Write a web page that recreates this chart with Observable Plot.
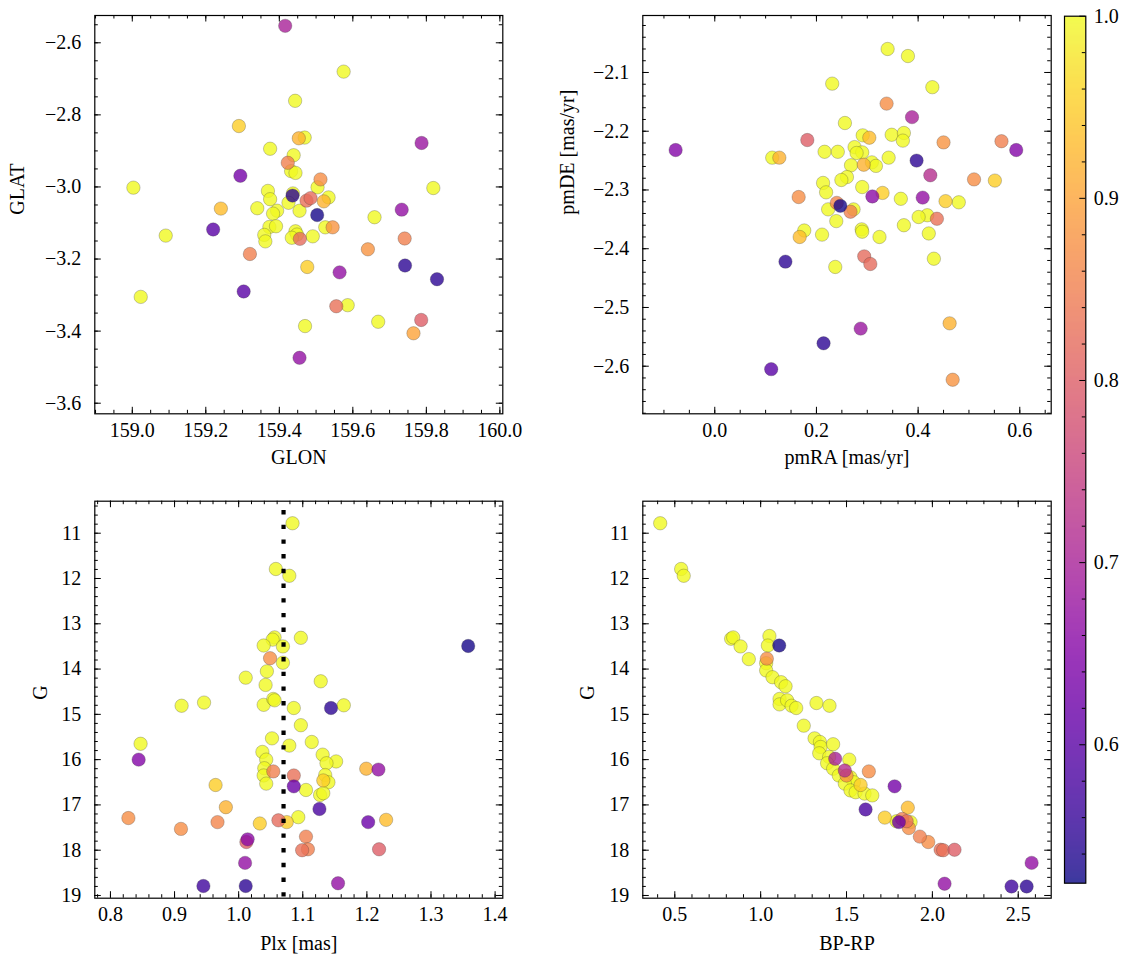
<!DOCTYPE html>
<html>
<head>
<meta charset="utf-8">
<script src="https://cdn.jsdelivr.net/npm/d3@7"></script>
<script src="https://cdn.jsdelivr.net/npm/@observablehq/plot@0.6"></script>
<style>
  html, body { margin: 0; padding: 0; background: #fff; }
  #fig { position: relative; width: 1133px; height: 965px; overflow: hidden; }
  #fig > svg { position: absolute; overflow: visible; }
  #fig svg, #fig svg text { font-family: 'Liberation Serif', 'Times New Roman', serif !important; }
</style>
</head>
<body>
<div id="fig"></div>
<script>
// ---------- Panel 1: GLON / GLAT ----------
const glon = [
159.416, 159.575, 159.443, 159.290, 159.453, 159.469, 159.787, 159.375, 159.439, 159.423,
159.432, 159.444, 159.294, 159.512, 159.504, 159.003, 159.819, 159.369, 159.437, 159.436,
159.375, 159.485, 159.474, 159.534, 159.521, 159.425, 159.241, 159.340, 159.455, 159.733,
159.394, 159.383, 159.503, 159.659, 159.220, 159.091, 159.373, 159.391, 159.525, 159.545,
159.359, 159.362, 159.444, 159.448, 159.434, 159.456, 159.491, 159.741, 159.320, 159.641,
159.742, 159.476, 159.564, 159.829, 159.303, 159.023, 159.555, 159.586, 159.669, 159.786,
159.470, 159.765, 159.455];
const glat = [
-2.553, -2.680, -2.761, -2.831, -2.865, -2.863, -2.878, -2.894, -2.912, -2.933,
-2.956, -2.961, -2.969, -2.979, -3.001, -3.002, -3.003, -3.011, -3.018, -3.024,
-3.034, -3.031, -3.038, -3.029, -3.040, -3.044, -3.060, -3.059, -3.066, -3.063,
-3.066, -3.074, -3.078, -3.084, -3.118, -3.135, -3.111, -3.109, -3.112, -3.112,
-3.133, -3.151, -3.123, -3.132, -3.141, -3.144, -3.137, -3.143, -3.186, -3.173,
-3.218, -3.222, -3.237, -3.256, -3.290, -3.305, -3.331, -3.328, -3.374, -3.369,
-3.386, -3.406, -3.474];
const probGal = [
0.70, 1.00, 1.00, 0.95, 0.92, 1.00, 0.68, 1.00, 1.00, 0.85,
1.00, 1.00, 0.63, 0.87, 1.00, 1.00, 1.00, 1.00, 1.00, 0.55,
1.00, 0.82, 0.83, 1.00, 0.92, 1.00, 0.93, 1.00, 1.00, 0.67,
1.00, 1.00, 0.53, 1.00, 0.60, 1.00, 1.00, 1.00, 1.00, 0.88,
1.00, 1.00, 1.00, 1.00, 1.00, 0.82, 1.00, 0.85, 0.85, 0.88,
0.55, 0.95, 0.67, 0.55, 0.60, 1.00, 0.83, 1.00, 1.00, 0.80,
1.00, 0.90, 0.67];

// ---------- Panel 2: pmRA / pmDE ----------
const pmra = [
0.340, 0.380, 0.231, 0.428, 0.338, 0.388, 0.256, 0.291, 0.304, 0.348,
0.372, 0.370, 0.182, 0.450, 0.564, 0.593, -0.077, 0.216, 0.242, 0.275,
0.290, 0.279, 0.113, 0.127, 0.342, 0.397, 0.309, 0.317, 0.293, 0.268,
0.424, 0.260, 0.249, 0.510, 0.551, 0.213, 0.219, 0.290, 0.330, 0.310,
0.366, 0.409, 0.165, 0.454, 0.480, 0.240, 0.247, 0.223, 0.273, 0.267,
0.239, 0.418, 0.401, 0.437, 0.372, 0.176, 0.167, 0.211, 0.289, 0.290,
0.324, 0.421, 0.139, 0.294, 0.306, 0.237, 0.431, 0.462, 0.287, 0.214,
0.111, 0.468];
const pmde = [
-2.060, -2.072, -2.119, -2.125, -2.153, -2.176, -2.186, -2.207, -2.211, -2.206,
-2.203, -2.216, -2.215, -2.219, -2.217, -2.232, -2.232, -2.235, -2.235, -2.227,
-2.236, -2.237, -2.245, -2.245, -2.245, -2.250, -2.253, -2.259, -2.257, -2.258,
-2.275, -2.278, -2.283, -2.282, -2.284, -2.288, -2.304, -2.295, -2.305, -2.311,
-2.315, -2.313, -2.312, -2.319, -2.321, -2.322, -2.327, -2.333, -2.333, -2.337,
-2.353, -2.343, -2.346, -2.349, -2.360, -2.369, -2.380, -2.376, -2.367, -2.371,
-2.380, -2.374, -2.422, -2.413, -2.426, -2.431, -2.417, -2.527, -2.536, -2.561,
-2.605, -2.623];
const probPm = [
1.00, 1.00, 1.00, 1.00, 0.87, 0.70, 1.00, 1.00, 0.93, 1.00,
1.00, 1.00, 0.80, 0.88, 0.85, 0.65, 0.65, 1.00, 1.00, 1.00,
1.00, 1.00, 1.00, 0.92, 1.00, 0.55, 1.00, 1.00, 0.92, 1.00,
0.72, 1.00, 1.00, 0.87, 0.95, 1.00, 1.00, 1.00, 0.95, 0.66,
1.00, 0.67, 0.87, 0.95, 1.00, 0.86, 0.53, 1.00, 1.00, 0.85,
1.00, 1.00, 1.00, 0.83, 1.00, 1.00, 0.93, 1.00, 1.00, 1.00,
1.00, 1.00, 0.55, 0.82, 0.82, 1.00, 1.00, 0.92, 0.68, 0.55,
0.60, 0.88];

// ---------- Panel 3: Plx / G ----------
const plx = [
1.084, 1.058, 1.079, 1.097, 1.056, 1.053, 1.039, 1.069, 1.358, 1.049,
1.069, 1.044, 1.011, 1.128, 1.042, 0.946, 0.911, 1.039, 1.054, 1.056,
1.086, 1.144, 1.164, 1.097, 0.847, 1.052, 1.114, 1.079, 0.844, 1.037,
1.043, 1.131, 1.152, 1.137, 1.040, 1.054, 1.199, 1.218, 1.039, 1.086,
1.135, 1.140, 1.132, 1.043, 0.964, 1.086, 1.105, 1.127, 1.132, 0.980,
1.126, 0.828, 1.093, 1.230, 0.967, 1.033, 1.062, 1.075, 1.202, 0.910,
1.105, 1.014, 1.012, 1.099, 1.108, 1.219, 1.010, 0.945, 1.011, 1.155];
const gPlx = [
10.78, 11.79, 11.94, 13.31, 13.30, 13.35, 13.48, 13.50, 13.49, 13.76,
13.86, 14.05, 14.19, 14.27, 14.35, 14.74, 14.81, 14.79, 14.66, 14.69,
14.86, 14.86, 14.80, 15.24, 15.65, 15.53, 15.61, 15.69, 16.00, 15.83,
16.00, 15.89, 16.04, 16.08, 16.19, 16.26, 16.20, 16.22, 16.35, 16.35,
16.34, 16.50, 16.46, 16.53, 16.56, 16.59, 16.67, 16.78, 16.74, 17.05,
17.09, 17.29, 17.27, 17.33, 17.38, 17.41, 17.34, 17.38, 17.38, 17.53,
17.70, 17.76, 17.82, 18.00, 17.98, 17.98, 18.28, 18.79, 18.79, 18.73];
const probPlx = [
1.00, 1.00, 1.00, 1.00, 1.00, 1.00, 1.00, 1.00, 0.53, 0.87,
1.00, 1.00, 1.00, 1.00, 1.00, 1.00, 1.00, 1.00, 1.00, 1.00,
1.00, 0.55, 1.00, 1.00, 1.00, 1.00, 1.00, 1.00, 0.65, 1.00,
1.00, 1.00, 1.00, 1.00, 1.00, 0.85, 0.92, 0.67, 1.00, 0.83,
1.00, 1.00, 0.95, 1.00, 0.95, 0.62, 1.00, 1.00, 1.00, 0.92,
0.58, 0.87, 1.00, 0.93, 0.86, 0.95, 0.82, 0.95, 0.62, 0.87,
0.85, 0.66, 0.80, 0.83, 0.85, 0.80, 0.67, 0.57, 0.55, 0.67];
const plxRef = 1.07;

// ---------- Panel 4: BP-RP / G ----------
const bprp = [
0.415, 0.537, 0.552, 0.828, 0.840, 0.883, 0.931, 1.051, 1.042, 1.108,
1.036, 1.032, 1.032, 1.069, 1.119, 1.145, 1.110, 1.110, 1.154, 1.180,
1.207, 1.325, 1.401, 1.251, 1.314, 1.345, 1.349, 1.422, 1.341, 1.399,
1.516, 1.387, 1.434, 1.422, 1.490, 1.630, 1.455, 1.500, 1.523, 1.543,
1.490, 1.582, 1.780, 1.523, 1.553, 1.605, 1.650, 1.611, 1.857, 1.723,
1.791, 1.873, 1.824, 1.850, 1.805, 1.863, 1.927, 1.976, 2.048, 2.063,
2.129, 2.578, 2.071, 2.461, 2.549];
const gCmd = [
10.78, 11.79, 11.94, 13.33, 13.30, 13.50, 13.78, 13.27, 13.48, 13.48,
13.77, 13.87, 14.03, 14.18, 14.29, 14.38, 14.66, 14.78, 14.69, 14.81,
14.86, 14.75, 14.81, 15.25, 15.53, 15.61, 15.72, 15.66, 15.86, 15.94,
16.00, 16.08, 15.98, 16.20, 16.24, 16.26, 16.35, 16.35, 16.39, 16.50,
16.53, 16.56, 16.59, 16.68, 16.72, 16.75, 16.79, 17.10, 17.06, 17.28,
17.36, 17.38, 17.31, 17.36, 17.38, 17.51, 17.70, 17.82, 17.99, 18.00,
17.99, 18.28, 18.74, 18.80, 18.80];
const probCmd = [
1.00, 1.00, 1.00, 1.00, 1.00, 1.00, 1.00, 1.00, 1.00, 0.53,
0.87, 1.00, 1.00, 1.00, 1.00, 1.00, 1.00, 1.00, 1.00, 1.00,
1.00, 1.00, 1.00, 1.00, 1.00, 1.00, 1.00, 1.00, 1.00, 1.00,
1.00, 1.00, 0.70, 1.00, 0.72, 0.87, 1.00, 0.88, 1.00, 1.00,
1.00, 0.95, 0.63, 1.00, 1.00, 1.00, 1.00, 0.58, 0.93, 0.95,
1.00, 1.00, 0.85, 0.83, 0.62, 0.87, 0.85, 0.87, 0.83, 0.83,
0.80, 0.67, 0.67, 0.57, 0.55];

// ---------- Tick labels ----------
const glonTicks = [159.0, 159.2, 159.4, 159.6, 159.8, 160.0];
const glatTicks = [-2.6, -2.8, -3.0, -3.2, -3.4, -3.6];
const pmraTicks = [0.0, 0.2, 0.4, 0.6];
const pmdeTicks = [-2.1, -2.2, -2.3, -2.4, -2.5, -2.6];
const plxTicks = [0.8, 0.9, 1.0, 1.1, 1.2, 1.3, 1.4];
const gTicks = [11, 12, 13, 14, 15, 16, 17, 18, 19];
const bprpTicks = [0.5, 1.0, 1.5, 2.0, 2.5];
const probTicks = [0.6, 0.7, 0.8, 0.9, 1.0];
const probDomain = [0.524, 1.0];

// ---------- helpers ----------
const FONT = "'Liberation Serif', 'Times New Roman', serif";
const STYLE = "font-family: 'Liberation Serif', 'Times New Roman', serif; font-size: 20px; background: transparent; overflow: visible; color: black;";
const colorScale = {type: "linear", scheme: "plasma", domain: probDomain};
const f1 = d3.format(".1f");
const f0 = d3.format("d");

function rows(xs, ys, ps) {
  return d3.sort(xs.map((x, i) => ({x, y: ys[i], p: ps[i]})), (a, b) => b.p - a.p);
}
function minorTicks(dom, step) {
  const lo = Math.min(...dom), hi = Math.max(...dom);
  const out = [];
  for (let k = Math.ceil(lo / step - 1e-9); k * step <= hi + 1e-9; k++) out.push(+(k * step).toFixed(6));
  return out;
}
function within(dom) {
  const lo = Math.min(...dom), hi = Math.max(...dom);
  return v => v >= lo - 1e-9 && v <= hi + 1e-9;
}

function panel(c) {
  const fw = c.width - c.ml - c.mr, fh = c.height - c.mt - c.mb;
  const inX = within(c.xDomain), inY = within(c.yDomain);
  const xMaj = c.xMajor.filter(inX), yMaj = c.yMajor.filter(inY);
  const xMin = minorTicks(c.xDomain, c.xStep), yMin = minorTicks(c.yDomain, c.yStep);
  const MAJ = 6.5, MIN = 3.5;
  const tk = {stroke: "black", strokeWidth: 1};
  return Plot.plot({
    width: c.width, height: c.height,
    marginLeft: c.ml, marginRight: c.mr, marginTop: c.mt, marginBottom: c.mb,
    style: STYLE,
    x: {domain: c.xDomain},
    y: {domain: c.yDomain},
    color: colorScale,
    marks: [
      Plot.dot(c.data, {x: "x", y: "y", fill: "p", r: 6.7, fillOpacity: 0.8,
        stroke: "#333", strokeOpacity: 0.45, strokeWidth: 0.6}),
      ...(c.extra || []),
      Plot.ruleX(xMaj, {x: d => d, insetTop: fh - MAJ, ...tk}),
      Plot.ruleX(xMaj, {x: d => d, insetBottom: fh - MAJ, ...tk}),
      Plot.ruleX(xMin, {x: d => d, insetTop: fh - MIN, ...tk}),
      Plot.ruleX(xMin, {x: d => d, insetBottom: fh - MIN, ...tk}),
      Plot.ruleY(yMaj, {y: d => d, insetRight: fw - MAJ, ...tk}),
      Plot.ruleY(yMaj, {y: d => d, insetLeft: fw - MAJ, ...tk}),
      Plot.ruleY(yMin, {y: d => d, insetRight: fw - MIN, ...tk}),
      Plot.ruleY(yMin, {y: d => d, insetLeft: fw - MIN, ...tk}),
      Plot.axisX({ticks: xMaj, tickSize: 0, tickPadding: 9, tickFormat: c.xFmt, label: null, fontFamily: FONT, fontSize: 20}),
      Plot.axisY({ticks: yMaj, tickSize: 0, tickPadding: 13.5, tickFormat: c.yFmt, label: null, fontFamily: FONT, fontSize: 20}),
      Plot.frame({stroke: "black", strokeWidth: 1.2}),
      Plot.text([c.xLabel], {frameAnchor: "bottom", dy: c.xLabelDy, text: d => d, lineAnchor: "middle", fill: "black", fontFamily: FONT, fontSize: 20}),
      Plot.text([c.yLabel], {frameAnchor: "left", dx: c.yLabelDx, rotate: -90, text: d => d, lineAnchor: "middle", fill: "black", fontFamily: FONT, fontSize: 20})
    ]
  });
}

const fig = document.getElementById("fig");
function place(svg, left, top) {
  svg.style.left = left + "px";
  svg.style.top = top + "px";
  fig.appendChild(svg);
}

// Panel 1
place(panel({
  width: 520, height: 470, ml: 94.3, mr: 17.7, mt: 15, mb: 56.7,
  xDomain: [158.898, 160.008], yDomain: [-3.6294, -2.5243],
  xMajor: glonTicks, yMajor: glatTicks, xStep: 0.05, yStep: 0.05,
  xFmt: f1, yFmt: f1, xLabel: "GLON", yLabel: "GLAT", xLabelDy: 43.5, yLabelDx: -77,
  data: rows(glon, glat, probGal)
}), 0, 0);

// Panel 2
place(panel({
  width: 520, height: 470, ml: 82.3, mr: 29.3, mt: 15, mb: 56.7,
  xDomain: [-0.1416, 0.6618], yDomain: [-2.681, -2.003],
  xMajor: pmraTicks, yMajor: pmdeTicks, xStep: 0.05, yStep: 0.02,
  xFmt: f1, yFmt: f1, xLabel: "pmRA [mas/yr]", yLabel: "pmDE [mas/yr]", xLabelDy: 44, yLabelDx: -75.5,
  data: rows(pmra, pmde, probPm)
}), 560, 0);

// Panel 3
place(panel({
  width: 520, height: 485, ml: 94.3, mr: 17.7, mt: 20.7, mb: 67.3,
  xDomain: [0.7756, 1.412], yDomain: [19.06, 10.293],
  xMajor: plxTicks, yMajor: gTicks, xStep: 0.02, yStep: 0.2,
  xFmt: f1, yFmt: f0, xLabel: "Plx [mas]", yLabel: "G", xLabelDy: 45.5, yLabelDx: -54.5,
  data: rows(plx, gPlx, probPlx),
  extra: [Plot.ruleX([plxRef], {x: d => d, stroke: "black", strokeWidth: 4.2,
    strokeDasharray: "4.4,10.3", strokeDashoffset: 5.4})]
}), 0, 480);

// Panel 4
place(panel({
  width: 520, height: 485, ml: 82.3, mr: 29.3, mt: 20.7, mb: 67.3,
  xDomain: [0.3136, 2.692], yDomain: [19.06, 10.293],
  xMajor: bprpTicks, yMajor: gTicks, xStep: 0.1, yStep: 0.2,
  xFmt: f1, yFmt: f0, xLabel: "BP-RP", yLabel: "G", xLabelDy: 45, yLabelDx: -55.5,
  data: rows(bprp, gCmd, probCmd)
}), 560, 480);

// Colorbar
(function () {
  const W = 93, H = 965, ml = 24, mr = 47.7, mt = 15.7, mb = 82.3;
  const fw = W - ml - mr;
  const minor = minorTicks(probDomain, 0.02).filter(v => !probTicks.some(t => Math.abs(t - v) < 1e-6));
  const tk = {stroke: "black", strokeWidth: 1};
  const svg = Plot.plot({
    width: W, height: H, marginLeft: ml, marginRight: mr, marginTop: mt, marginBottom: mb,
    style: STYLE,
    x: {domain: [0, 1], axis: null},
    y: {domain: probDomain},
    color: colorScale,
    marks: [
      Plot.raster({x1: 0, x2: 1, y1: probDomain[0], y2: probDomain[1], width: 1, height: 400,
        fill: (x, y) => y, fillOpacity: 0.8, imageRendering: "auto"}),
      Plot.ruleY(probTicks, {y: d => d, insetLeft: fw - 6, ...tk}),
      Plot.ruleY(minor, {y: d => d, insetLeft: fw - 3.5, ...tk}),
      Plot.axisY({anchor: "right", ticks: probTicks, tickSize: 0, tickPadding: 8, tickFormat: f1, label: null, fontFamily: FONT, fontSize: 20}),
      Plot.frame({stroke: "black", strokeWidth: 1.2})
    ]
  });
  place(svg, 1040, 0);
})();
</script>
</body>
</html>
